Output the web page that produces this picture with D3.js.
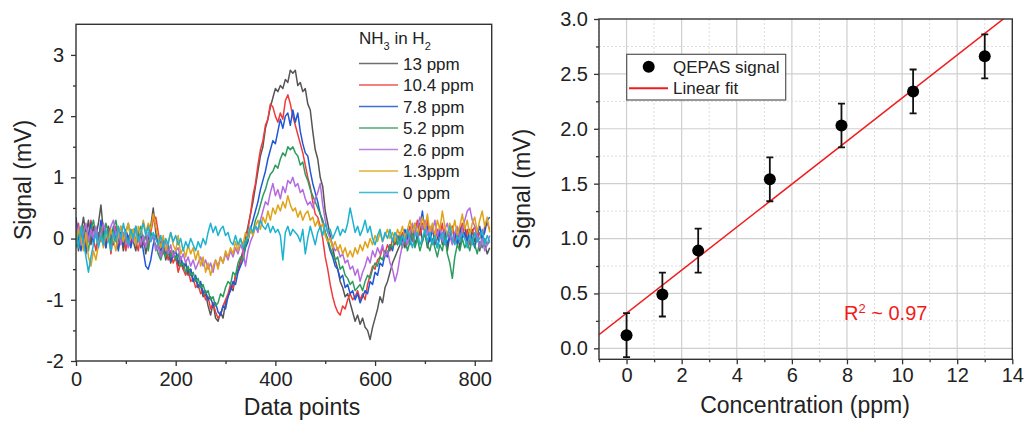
<!DOCTYPE html>
<html>
<head>
<meta charset="utf-8">
<script src="https://cdn.jsdelivr.net/npm/d3@7"></script>
<style>
  body { margin: 0; background: #fff; }
  svg { display: block; font-family: "Liberation Sans", Arial, sans-serif; }
</style>
</head>
<body>
<div id="chart"></div>
<script>
// ---- left panel: QEPAS traces, one sample every 5 data points ----
const sampleStep = 5;
const traceLabels = ["13 ppm", "10.4 ppm", "7.8 ppm", "5.2 ppm", "2.6 ppm", "1.3ppm", "0 ppm"];
const traceColors = ["#555555", "#f23a3a", "#1f57d6", "#2c9c5e", "#b46be0", "#dfa31a", "#1db2d0"];

const sig13 = [0.15,-0.2,0.1,0.35,0.05,0.3,-0.1,0.2,0.05,0.25,0.55,0.1,-0.15,0.2,0.05,-0.1,0.15,-0.05,0.1,-0.2,
  0.05,-0.1,0.15,-0.05,-0.2,0.1,-0.15,0.05,-0.25,0.0,0.2,0.5,0.1,-0.1,-0.3,-0.1,-0.35,-0.2,-0.4,-0.25,
  -0.3,-0.45,-0.3,-0.5,-0.4,-0.6,-0.5,-0.7,-0.65,-0.8,-0.75,-0.95,-0.9,-1.1,-1.25,-1.05,-1.3,-1.35,-1.2,-1.3,
  -1.05,-0.95,-0.8,-0.85,-0.6,-0.5,-0.35,-0.2,0.0,0.2,0.4,0.6,0.85,1.1,1.35,1.5,1.8,1.95,2.15,2.3,
  2.45,2.4,2.5,2.45,2.6,2.55,2.75,2.7,2.75,2.5,2.55,2.4,2.45,2.2,2.1,1.75,1.45,1.3,1.0,0.85,
  0.45,0.25,0.05,-0.15,-0.35,-0.5,-0.7,-0.8,-0.95,-0.9,-1.05,-1.2,-1.35,-1.25,-1.4,-1.3,-1.45,-1.5,-1.65,-1.45,
  -1.3,-1.15,-0.95,-1.05,-0.8,-0.7,-0.55,-0.4,-0.3,-0.2,-0.1,0.05,-0.15,0.1,-0.05,0.2,-0.1,0.05,0.25,-0.05,
  0.1,-0.15,0.05,0.2,-0.1,0.0,0.15,-0.1,0.1,-0.2,0.05,0.2,-0.05,0.1,-0.15,0.05,0.2,0.0,-0.1,0.15,
  -0.05,0.1,-0.2,0.05,-0.1,-0.25,-0.15];

const sig104 = [0.1,0.25,-0.1,0.2,-0.15,0.05,0.3,0.0,-0.2,0.1,-0.05,0.2,-0.1,0.15,-0.25,0.05,0.2,-0.15,0.0,0.1,
  -0.2,0.05,-0.1,0.15,-0.05,-0.2,0.1,-0.1,0.05,-0.15,0.1,0.3,0.35,0.1,-0.1,-0.25,-0.15,-0.35,-0.2,-0.4,
  -0.3,-0.55,-0.4,-0.5,-0.6,-0.5,-0.7,-0.65,-0.8,-0.75,-0.9,-0.85,-1.0,-0.95,-1.15,-1.05,-1.2,-1.3,-1.25,-1.1,
  -1.0,-0.9,-0.75,-0.8,-0.6,-0.55,-0.4,-0.25,-0.05,0.15,0.4,0.7,0.9,1.2,1.45,1.6,1.85,1.95,2.2,2.15,
  2.0,1.9,2.05,1.95,2.25,2.35,2.2,2.0,1.85,1.7,1.55,1.4,1.2,1.0,0.85,0.6,0.4,0.35,0.2,0.0,
  -0.3,-0.5,-0.75,-0.95,-1.1,-1.2,-1.25,-1.1,-1.15,-1.0,-0.9,-1.0,-0.95,-0.85,-1.0,-0.9,-1.0,-0.75,-0.6,-0.45,
  -0.5,-0.35,-0.3,-0.15,-0.25,-0.1,-0.2,0.0,-0.1,0.05,-0.05,0.1,-0.1,0.05,0.2,-0.05,0.1,0.3,0.05,0.25,
  0.1,0.3,0.0,0.2,-0.05,0.15,0.05,0.25,-0.1,0.1,0.0,0.2,-0.05,0.15,0.05,0.25,0.0,0.15,-0.1,0.1,
  0.2,0.0,0.1,-0.05,0.2,0.25,0.15];

const sig78 = [0.35,0.0,-0.2,0.1,-0.25,0.05,0.25,-0.1,0.15,-0.05,0.3,0.05,-0.15,0.1,-0.05,0.2,0.0,-0.2,0.1,-0.1,
  0.15,0.0,-0.15,0.05,0.2,-0.05,0.1,-0.2,-0.45,-0.5,-0.35,-0.1,0.05,-0.1,-0.2,0.0,-0.25,-0.15,-0.35,-0.3,
  -0.2,-0.4,-0.3,-0.45,-0.4,-0.55,-0.5,-0.7,-0.6,-0.8,-0.7,-0.9,-0.85,-1.0,-0.95,-1.1,-1.05,-1.2,-1.25,-1.1,
  -1.15,-0.95,-0.85,-0.7,-0.75,-0.55,-0.45,-0.35,-0.15,-0.05,0.15,0.3,0.45,0.6,0.8,0.95,1.1,1.3,1.45,1.6,
  1.55,1.75,1.95,1.8,2.0,2.05,1.85,2.1,1.9,2.05,1.75,1.55,1.4,1.35,1.1,0.9,0.75,0.6,0.4,0.3,
  0.1,-0.05,-0.2,-0.3,-0.45,-0.5,-0.65,-0.6,-0.8,-0.75,-0.9,-0.85,-1.0,-0.9,-1.05,-0.95,-0.85,-0.9,-0.7,-0.75,
  -0.55,-0.6,-0.4,-0.45,-0.25,-0.3,-0.1,-0.2,0.0,-0.1,0.1,-0.05,0.15,0.0,-0.1,0.1,0.25,0.0,0.2,0.45,
  0.1,0.2,-0.05,0.15,0.0,-0.15,0.1,-0.05,0.15,-0.1,0.05,-0.05,0.1,-0.1,0.2,0.0,0.1,-0.05,0.15,0.0,
  -0.15,0.05,0.2,0.0,0.1,0.3,0.35];

const sig52 = [-0.15,0.1,-0.05,0.2,0.0,-0.2,0.15,0.3,0.05,-0.1,0.2,-0.05,0.25,0.1,-0.1,0.15,0.3,0.05,0.2,-0.05,
  0.1,0.25,0.0,0.15,-0.1,0.1,0.2,-0.05,0.05,-0.2,0.1,0.0,-0.1,-0.25,-0.35,-0.2,-0.3,-0.1,-0.3,-0.2,
  -0.35,-0.25,-0.45,-0.4,-0.55,-0.45,-0.6,-0.55,-0.7,-0.65,-0.8,-0.75,-0.9,-0.85,-1.0,-0.95,-1.1,-1.05,-0.9,-0.95,
  -0.8,-0.7,-0.75,-0.55,-0.6,-0.4,-0.3,-0.35,-0.1,0.0,0.15,0.1,0.3,0.4,0.55,0.7,0.8,0.95,1.05,1.1,
  1.2,1.15,1.3,1.4,1.35,1.5,1.45,1.5,1.4,1.35,1.2,1.25,1.05,0.95,0.8,0.7,0.6,0.5,0.4,0.25,
  0.1,0.0,-0.15,-0.25,-0.35,-0.3,-0.5,-0.45,-0.6,-0.65,-0.75,-0.7,-0.85,-0.8,-0.75,-0.85,-0.7,-0.6,-0.65,-0.5,
  -0.4,-0.45,-0.3,-0.35,-0.2,-0.25,-0.1,-0.15,0.0,-0.1,0.05,-0.15,0.0,-0.2,-0.05,0.1,-0.15,0.0,-0.2,-0.05,
  0.1,-0.1,-0.2,0.0,-0.15,-0.3,-0.1,-0.2,0.05,-0.25,-0.4,-0.65,-0.3,-0.1,-0.2,0.0,-0.15,-0.05,-0.2,0.0,
  -0.1,-0.25,-0.05,-0.15,0.0,-0.1,-0.05];

const sig26 = [0.05,0.2,-0.1,0.1,0.25,-0.05,0.15,0.0,0.2,-0.1,0.05,0.25,0.1,-0.05,0.2,0.3,0.05,0.15,-0.1,0.1,
  0.0,-0.15,0.1,-0.05,0.15,0.0,-0.1,0.05,-0.15,0.1,-0.05,0.05,-0.2,-0.1,-0.3,-0.15,-0.05,-0.25,-0.1,-0.3,
  -0.2,-0.15,-0.35,-0.25,-0.4,-0.3,-0.45,-0.35,-0.5,-0.4,-0.3,-0.45,-0.35,-0.5,-0.4,-0.55,-0.35,-0.45,-0.3,-0.4,
  -0.25,-0.35,-0.2,-0.3,-0.15,-0.25,-0.1,-0.2,-0.45,-0.2,-0.05,0.05,0.2,0.1,0.3,0.45,0.6,0.55,0.75,0.9,
  0.7,0.8,0.65,0.85,0.75,0.95,0.9,1.0,0.85,0.9,0.75,0.8,0.65,0.55,0.6,0.5,0.65,0.75,0.9,0.55,
  0.3,0.1,0.0,-0.1,-0.2,-0.15,-0.3,-0.25,-0.4,-0.35,-0.5,-0.45,-0.6,-0.5,-0.7,-0.55,-0.45,-0.3,-0.4,-0.2,
  -0.3,-0.15,-0.25,-0.1,-0.3,-0.2,-0.4,-0.5,-0.7,-0.55,-0.3,-0.1,0.05,-0.1,0.1,0.25,0.05,0.2,0.35,0.15,
  0.3,0.05,0.2,0.1,0.3,0.05,0.2,-0.05,0.15,0.25,0.05,-0.1,0.1,0.2,0.0,0.15,0.3,0.45,0.5,0.3,
  0.2,0.05,-0.15,0.0,-0.2,-0.1,0.05];

const sig13b = [-0.1,0.15,0.0,-0.2,0.1,-0.3,-0.45,-0.2,-0.35,-0.1,0.05,-0.15,0.1,-0.05,0.15,0.0,-0.2,0.05,0.2,-0.05,
  0.1,0.25,0.0,0.15,-0.1,0.2,0.05,0.3,0.1,0.25,0.15,0.4,0.2,0.0,-0.15,0.05,-0.2,-0.05,0.1,-0.1,
  -0.2,0.05,-0.25,-0.15,-0.3,-0.1,-0.25,-0.15,-0.35,-0.2,-0.45,-0.3,-0.55,-0.4,-0.6,-0.45,-0.35,-0.5,-0.3,-0.4,
  -0.2,-0.3,-0.15,-0.25,-0.05,-0.2,0.0,-0.1,0.1,0.0,0.15,0.05,0.2,0.3,0.15,0.35,0.25,0.45,0.3,0.5,
  0.4,0.55,0.45,0.6,0.5,0.7,0.55,0.45,0.5,0.35,0.45,0.3,0.4,0.45,0.3,0.35,0.2,0.3,0.15,0.25,
  0.05,-0.05,0.0,-0.15,-0.05,-0.2,-0.1,-0.25,-0.15,-0.3,-0.2,-0.3,-0.15,-0.25,-0.1,-0.2,-0.05,-0.15,0.0,-0.1,
  0.05,-0.05,0.1,-0.05,0.05,0.15,0.0,0.1,-0.05,0.15,0.05,0.2,0.0,0.15,0.3,0.1,0.25,0.05,0.2,0.35,
  0.15,0.4,0.1,0.25,0.05,0.3,0.15,0.45,0.2,0.05,0.25,0.1,0.3,0.05,0.2,0.4,0.15,0.3,0.05,0.25,
  0.35,0.1,0.3,0.45,0.2,0.35,0.1];

const sig0 = [0.1,-0.15,0.2,-0.05,-0.3,-0.55,-0.3,-0.1,0.1,-0.15,0.05,-0.1,0.15,0.0,-0.2,0.1,-0.05,0.2,0.0,0.25,
  0.05,-0.1,0.15,0.0,0.2,-0.05,0.1,0.25,0.05,0.2,-0.05,0.1,0.0,-0.1,0.05,-0.15,0.0,-0.1,0.1,-0.05,
  0.05,-0.1,0.0,-0.2,-0.05,-0.15,0.0,-0.1,-0.2,-0.05,-0.15,0.0,-0.1,0.1,0.25,0.1,0.2,0.05,0.15,0.2,
  0.05,0.1,-0.05,-0.1,0.05,-0.1,0.0,-0.15,-0.05,0.05,0.2,0.1,0.2,0.15,0.3,0.2,0.15,0.25,0.1,0.2,
  0.1,0.15,0.05,-0.35,0.1,0.2,0.05,0.15,0.1,0.05,-0.05,0.15,-0.25,0.0,0.2,0.05,-0.1,0.1,0.2,0.05,
  0.25,0.1,0.15,0.0,0.1,0.2,0.05,0.15,0.1,0.25,0.5,0.3,0.1,0.2,0.05,0.15,0.3,0.1,0.2,0.0,
  -0.1,0.05,0.15,-0.05,0.1,0.0,0.15,-0.05,0.1,0.0,-0.1,0.05,-0.05,0.15,0.0,-0.15,0.05,0.1,-0.1,0.0,
  0.15,-0.05,0.1,-0.1,0.05,-0.15,0.0,0.1,-0.1,0.05,0.2,0.0,-0.1,0.05,-0.05,0.1,0.0,-0.15,0.05,-0.1,
  0.1,-0.05,0.0,0.15,-0.1,0.05,-0.05];

const traces = [sig13, sig104, sig78, sig52, sig26, sig13b, sig0];

// ---- right panel: peak signal vs concentration ----
const concentrations = [0, 1.3, 2.6, 5.2, 7.8, 10.4, 13];
const peakSignal = [0.12, 0.49, 0.89, 1.54, 2.03, 2.34, 2.66];
const peakError = [0.2, 0.2, 0.2, 0.2, 0.2, 0.2, 0.2];
const fitIntercept = 0.32;
const fitSlope = 0.196;

const W = 1033, H = 425;
const svg = d3.select("#chart").append("svg").attr("width", W).attr("height", H);
const axisColor = "#333";

function styleAxis(g, fs) {
  g.select(".domain").remove();
  g.selectAll(".tick line").attr("stroke", axisColor).attr("stroke-width", 1.3);
  g.selectAll(".tick text").attr("fill", "#222").style("font-size", fs + "px")
    .style("font-family", "'Liberation Sans', Arial, sans-serif");
}

// ================= LEFT PANEL =================
const L = { left: 76, right: 491.7, top: 24.3, bottom: 361 };
const xL = d3.scaleLinear().domain([0, 834]).range([L.left, L.right]);
const yL = d3.scaleLinear().domain([-2, 3.5]).range([L.bottom, L.top]);

svg.append("clipPath").attr("id", "clipL").append("rect")
  .attr("x", L.left).attr("y", L.top).attr("width", L.right - L.left).attr("height", L.bottom - L.top);

const line = d3.line().x((d, i) => xL(i * sampleStep)).y(d => yL(d));
svg.append("g").attr("clip-path", "url(#clipL)")
  .selectAll("path.trace")
  .data(traces)
  .join("path")
  .attr("class", "trace")
  .attr("d", line)
  .attr("fill", "none")
  .attr("stroke", (d, i) => traceColors[i])
  .attr("stroke-width", 1.5)
  .attr("stroke-linejoin", "round");

svg.append("g").attr("transform", `translate(0,${L.bottom})`)
  .call(d3.axisBottom(xL).tickValues([0, 200, 400, 600, 800]).tickSize(5).tickPadding(6).tickFormat(d3.format("d")))
  .call(g => styleAxis(g, 20));
svg.append("g").attr("transform", `translate(0,${L.bottom})`)
  .call(d3.axisBottom(xL).tickValues([100, 300, 500, 700]).tickSize(3).tickFormat(""))
  .call(g => styleAxis(g, 20));
svg.append("g").attr("transform", `translate(${L.left},0)`)
  .call(d3.axisLeft(yL).tickValues([-2, -1, 0, 1, 2, 3]).tickSize(5).tickPadding(7).tickFormat(d => String(d)))
  .call(g => styleAxis(g, 20));
svg.append("g").attr("transform", `translate(${L.left},0)`)
  .call(d3.axisLeft(yL).tickValues([-1.5, -0.5, 0.5, 1.5, 2.5]).tickSize(3).tickFormat(""))
  .call(g => styleAxis(g, 20));

svg.append("rect")
  .attr("x", L.left).attr("y", L.top).attr("width", L.right - L.left).attr("height", L.bottom - L.top)
  .attr("fill", "none").attr("stroke", axisColor).attr("stroke-width", 1.4);

svg.append("text").attr("x", 302).attr("y", 415).attr("text-anchor", "middle")
  .style("font-size", "23px").attr("fill", "#222").text("Data points");
svg.append("text").attr("transform", "translate(31,180) rotate(-90)").attr("text-anchor", "middle")
  .style("font-size", "23px").attr("fill", "#222").text("Signal (mV)");

// legend
const legTitle = svg.append("text").attr("x", 359).attr("y", 44).style("font-size", "17px").attr("fill", "#222");
legTitle.append("tspan").text("NH");
legTitle.append("tspan").attr("baseline-shift", "sub").style("font-size", "11px").text("3");
legTitle.append("tspan").text(" in H");
legTitle.append("tspan").attr("baseline-shift", "sub").style("font-size", "11px").text("2");

const leg = svg.append("g").selectAll("g").data(traceLabels).join("g")
  .attr("transform", (d, i) => `translate(359,${63.5 + i * 21.5})`);
leg.append("line").attr("x1", 0).attr("x2", 39)
  .attr("stroke", (d, i) => traceColors[i]).attr("stroke-width", 1.6).attr("opacity", 0.85);
leg.append("text").attr("x", 44).attr("y", 6).style("font-size", "17px").attr("fill", "#222").text(d => d);

// ================= RIGHT PANEL =================
const R = { left: 599, right: 1012.3, top: 19, bottom: 359.3 };
const xR = d3.scaleLinear().domain([-1, 14]).range([R.left, R.right]);
const yR = d3.scaleLinear().domain([-0.1, 3.0]).range([R.bottom, R.top]);

const grid = svg.append("g");
grid.selectAll("line.vmin").data(d3.range(-1, 14, 2)).join("line")
  .attr("x1", d => xR(d)).attr("x2", d => xR(d)).attr("y1", R.top).attr("y2", R.bottom)
  .attr("stroke", "#dcdcdc").attr("stroke-dasharray", "2,2");
grid.selectAll("line.hmin").data([0.25, 0.75, 1.25, 1.75, 2.25, 2.75]).join("line")
  .attr("x1", R.left).attr("x2", R.right).attr("y1", d => yR(d)).attr("y2", d => yR(d))
  .attr("stroke", "#dcdcdc").attr("stroke-dasharray", "2,2");
grid.selectAll("line.vmaj").data([0, 2, 4, 6, 8, 10, 12]).join("line")
  .attr("x1", d => xR(d)).attr("x2", d => xR(d)).attr("y1", R.top).attr("y2", R.bottom)
  .attr("stroke", "#cfcfcf").attr("stroke-width", 1.2);
grid.selectAll("line.hmaj").data([0, 0.5, 1, 1.5, 2, 2.5]).join("line")
  .attr("x1", R.left).attr("x2", R.right).attr("y1", d => yR(d)).attr("y2", d => yR(d))
  .attr("stroke", "#cfcfcf").attr("stroke-width", 1.2);

svg.append("clipPath").attr("id", "clipR").append("rect")
  .attr("x", R.left).attr("y", R.top).attr("width", R.right - R.left).attr("height", R.bottom - R.top);

// linear fit
svg.append("line").attr("clip-path", "url(#clipR)")
  .attr("x1", xR(-1)).attr("y1", yR(fitIntercept + fitSlope * -1))
  .attr("x2", xR(14)).attr("y2", yR(fitIntercept + fitSlope * 14))
  .attr("stroke", "#f01c1c").attr("stroke-width", 1.5);

// error bars + points
const pts = concentrations.map((c, i) => ({ c, v: peakSignal[i], e: peakError[i] }));
const eb = svg.append("g").attr("clip-path", "url(#clipR)");
eb.selectAll("line.err").data(pts).join("line")
  .attr("x1", d => xR(d.c)).attr("x2", d => xR(d.c))
  .attr("y1", d => yR(d.v - d.e)).attr("y2", d => yR(d.v + d.e))
  .attr("stroke", "#111").attr("stroke-width", 1.8);
["top", "bot"].forEach(k => {
  eb.selectAll("line.cap" + k).data(pts).join("line")
    .attr("x1", d => xR(d.c) - 3.5).attr("x2", d => xR(d.c) + 3.5)
    .attr("y1", d => yR(k === "top" ? d.v + d.e : d.v - d.e))
    .attr("y2", d => yR(k === "top" ? d.v + d.e : d.v - d.e))
    .attr("stroke", "#111").attr("stroke-width", 1.8);
});
svg.append("g").selectAll("circle").data(pts).join("circle")
  .attr("cx", d => xR(d.c)).attr("cy", d => yR(d.v)).attr("r", 6).attr("fill", "#000");

svg.append("g").attr("transform", `translate(0,${R.bottom})`)
  .call(d3.axisBottom(xR).tickValues([0, 2, 4, 6, 8, 10, 12, 14]).tickSize(5).tickPadding(4).tickFormat(d3.format("d")))
  .call(g => styleAxis(g, 20));
svg.append("g").attr("transform", `translate(0,${R.bottom})`)
  .call(d3.axisBottom(xR).tickValues(d3.range(-1, 14, 2)).tickSize(3).tickFormat(""))
  .call(g => styleAxis(g, 20));
svg.append("g").attr("transform", `translate(${R.left},0)`)
  .call(d3.axisLeft(yR).tickValues([0, 0.5, 1, 1.5, 2, 2.5, 3]).tickSize(5).tickPadding(6).tickFormat(d3.format(".1f")))
  .call(g => styleAxis(g, 20));
svg.append("g").attr("transform", `translate(${R.left},0)`)
  .call(d3.axisLeft(yR).tickValues([0.25, 0.75, 1.25, 1.75, 2.25, 2.75]).tickSize(3).tickFormat(""))
  .call(g => styleAxis(g, 20));

svg.append("rect")
  .attr("x", R.left).attr("y", R.top).attr("width", R.right - R.left).attr("height", R.bottom - R.top)
  .attr("fill", "none").attr("stroke", axisColor).attr("stroke-width", 1.4);

svg.append("text").attr("x", 805).attr("y", 413).attr("text-anchor", "middle")
  .style("font-size", "23px").attr("fill", "#222").text("Concentration (ppm)");
svg.append("text").attr("transform", "translate(530,189) rotate(-90)").attr("text-anchor", "middle")
  .style("font-size", "23px").attr("fill", "#222").text("Signal (mV)");

// R² note
const r2 = svg.append("text").attr("x", 844).attr("y", 320).style("font-size", "20px").attr("fill", "#f01c1c");
r2.append("tspan").text("R");
r2.append("tspan").attr("baseline-shift", "super").style("font-size", "13px").text("2");
r2.append("tspan").text(" ~ 0.97");

// legend box
const lg = svg.append("g");
lg.append("rect").attr("x", 626.7).attr("y", 54.3).attr("width", 159).attr("height", 45.7)
  .attr("fill", "#fff").attr("stroke", "#555").attr("stroke-width", 1.2);
lg.append("circle").attr("cx", 648.7).attr("cy", 66.7).attr("r", 6).attr("fill", "#000");
lg.append("text").attr("x", 673).attr("y", 72.7).style("font-size", "17px").attr("fill", "#222").text("QEPAS signal");
lg.append("line").attr("x1", 629).attr("x2", 668).attr("y1", 88.3).attr("y2", 88.3)
  .attr("stroke", "#f01c1c").attr("stroke-width", 2);
lg.append("text").attr("x", 673).attr("y", 94.3).style("font-size", "17px").attr("fill", "#222").text("Linear fit");
</script>
</body>
</html>
